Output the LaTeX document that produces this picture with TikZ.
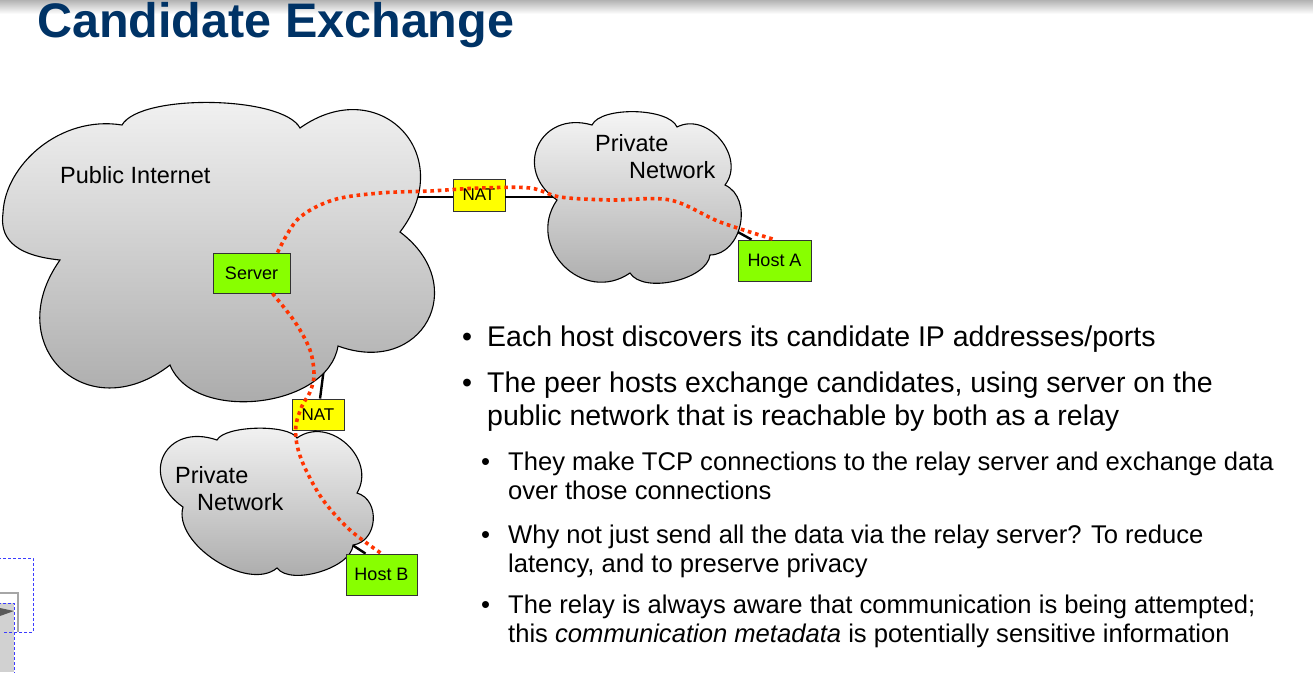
\documentclass[tikz,border=0pt]{standalone}
\usepackage{fontspec}
\setmainfont{Liberation Sans}
\usetikzlibrary{calc}

\definecolor{titleblue}{RGB}{0,51,102}
\definecolor{boxgreen}{RGB}{136,255,0}
\definecolor{natyellow}{RGB}{255,255,0}
\definecolor{pathred}{RGB}{255,51,0}
\definecolor{frameblue}{RGB}{60,60,255}

% one outward bulge of a cloud outline, from notch #1 to notch #2 (clockwise)
\newcommand\cloudlobe[3]{.. controls ($(#1)!0.1!(#2)!#3!90:(#2)$) and ($(#2)!0.1!(#1)!#3!-90:(#1)$) .. (#2)}

\begin{document}
\begin{tikzpicture}[x=1pt,y=-1pt,
  cloud/.style={draw=black, line width=1.1pt, top color=black!3, bottom color=black!35},
  link/.style={draw=black, line width=2.4pt},
  box/.style={draw=black!80, line width=0.9pt, inner sep=0pt,
    font=\fontsize{18}{21}\selectfont},
  hostbox/.style={box, fill=boxgreen, minimum width=73pt, minimum height=41pt},
  natbox/.style={box, fill=natyellow, minimum width=52pt, minimum height=31pt,
    font=\fontsize{17}{20}\selectfont},
  route/.style={draw=pathred, line width=3.6pt, dash pattern=on 3.6pt off 3.8pt},
  cloudlabel/.style={anchor=base west, inner sep=0pt, font=\fontsize{23.5}{28}\selectfont},
  mainline/.style={anchor=base west, inner sep=0pt, font=\fontsize{28.5}{34}\selectfont},
  subline/.style={anchor=base west, inner sep=0pt, font=\fontsize{25.6}{30}\selectfont},
  aside/.style={draw=frameblue, line width=0.8pt, dash pattern=on 3pt off 2pt}
]
\useasboundingbox (0,0) rectangle (1313,672);
\fill[white] (0,0) rectangle (1313,672);
\shade[top color=black!30, bottom color=white] (0,0) rectangle (1313,14);

% title
\node[anchor=base west, inner sep=0pt, text=titleblue,
  font=\fontsize{48.5}{56}\selectfont\bfseries] (title) at (37,37) {Candidate Exchange};

% attachment points, inside the cloud edges
\coordinate (pubE) at (405,197);
\coordinate (aW) at (565,197);
\coordinate (pubS) at (325,360);
\coordinate (bN) at (312,455);
\coordinate (aSE) at (725,225);
\coordinate (bSE) at (340,537);

% devices
\node[hostbox, minimum width=77pt, minimum height=40pt] (server) at (251.5,273) {Server};
\node[natbox, minimum height=32pt] (nat1) at (479,195) {NAT};
\node[hostbox] (hostA) at (774.5,260.5) {Host A};
\node[natbox] (nat2) at (318,414.5) {NAT};
\node[hostbox, minimum width=71pt] (hostB) at (381.5,574.5) {Host B};

% physical links (the cloud bodies cover their inner ends)
\draw[link] (pubE) -- (pubE -| nat1.west);
\draw[link] (aW -| nat1.east) -- (aW);
\draw[link] (pubS) -- (nat2);
\draw[link] (nat2) -- (bN);
\draw[link] (aSE) -- ([xshift=14pt]hostA.north west);
\draw[link] (bSE) -- ([xshift=20pt]hostB.north west);

% clouds
\draw[cloud] (122,125)
  \cloudlobe{122,125}{300,128}{0.2}
  \cloudlobe{300,128}{400,232}{0.74}
  \cloudlobe{400,232}{338,346}{0.76}
  \cloudlobe{338,346}{170,365}{0.4}
  \cloudlobe{170,365}{60,260}{0.76}
  .. controls (10,255) and (0,235) .. (3,213)
  .. controls (5,165) and (60,115) .. (122,125) -- cycle;

\draw[cloud] (557,200)
  \cloudlobe{557,200}{592,125}{0.72}
  \cloudlobe{592,125}{677,127}{0.25}
  \cloudlobe{677,127}{725,185}{0.5}
  \cloudlobe{725,185}{710,255}{0.48}
  \cloudlobe{710,255}{630,273}{0.32}
  \cloudlobe{630,273}{557,200}{0.6} -- cycle;

\draw[cloud] (183,507)
  \cloudlobe{183,507}{217,440}{0.8}
  \cloudlobe{217,440}{297,438}{0.2}
  \cloudlobe{297,438}{357,493}{0.53}
  \cloudlobe{357,493}{353,545}{0.52}
  \cloudlobe{353,545}{277,568}{0.3}
  \cloudlobe{277,568}{183,507}{0.36} -- cycle;

\node[cloudlabel] (pubname) at (60,183) {Public Internet};
\node[cloudlabel] (privA1) at (595,151) {Private};
\node[cloudlabel] (privA2) at (629,178) {Network};
\node[cloudlabel] (privB1) at (175,483) {Private};
\node[cloudlabel] (privB2) at (197,510) {Network};

% boxes redrawn above the clouds
\node[hostbox, minimum width=77pt, minimum height=40pt] at (server) {Server};
\node[hostbox] at (hostA) {Host A};
\node[hostbox, minimum width=71pt] at (hostB) {Host B};

% relayed signalling paths
\draw[route] plot[smooth, tension=0.55] coordinates {
  ([xshift=26pt]server.north) (298,219) (333,200) (380,193) (430,191) (480,188)
  (530,188) (560,197) (610,200) (670,200) (720,222) (hostA.north)};
\draw[route] plot[smooth, tension=0.55] coordinates {
  ([xshift=21pt]server.south) (295,322) (310,350) (314,375) (310,392) (302,406)
  (296,425) (297,445) (305,468) (323,500) (350,530) (hostB.north)};

% bullet list
\node[mainline] (b1) at (462,346) {•};
\node[mainline] (t1) at (487,346) {Each host discovers its candidate IP addresses/ports};
\node[mainline] (b2) at (462,392) {•};
\node[mainline] (t2a) at (487,392) {The peer hosts exchange candidates, using server on the};
\node[mainline] (t2b) at (487,425) {public network that is reachable by both as a relay};

\node[subline] (s1) at (481,470) {•};
\node[subline] (u1a) at (508,470) {They make TCP connections to the relay server and exchange data};
\node[subline] (u1b) at (508,499) {over those connections};
\node[subline] (s2) at (481,543) {•};
\node[subline] (u2a) at (508,543) {Why not just send all the data via the relay server? To reduce};
\node[subline] (u2b) at (508,572) {latency, and to preserve privacy};
\node[subline] (s3) at (481,613) {•};
\node[subline] (u3a) at (508,613) {The relay is always aware that communication is being attempted;};
\node[subline] (u3b) at (508,642) {this \textit{communication metadata} is potentially sensitive information};

% clipped object at the lower left edge
\fill[black!18] (0,603) rectangle (14,672);
\fill[black!65] (0,608) -- (14,611) -- (0,616) -- cycle;
\draw[black!35, line width=1.5pt] (0,593) -- (18,593) -- (18,632);
\draw[aside] (-2,558) -- (33,558) -- (33,632) -- (4,632);
\draw[aside] (-2,603) -- (14,603) -- (14,674);
\end{tikzpicture}
\end{document}
